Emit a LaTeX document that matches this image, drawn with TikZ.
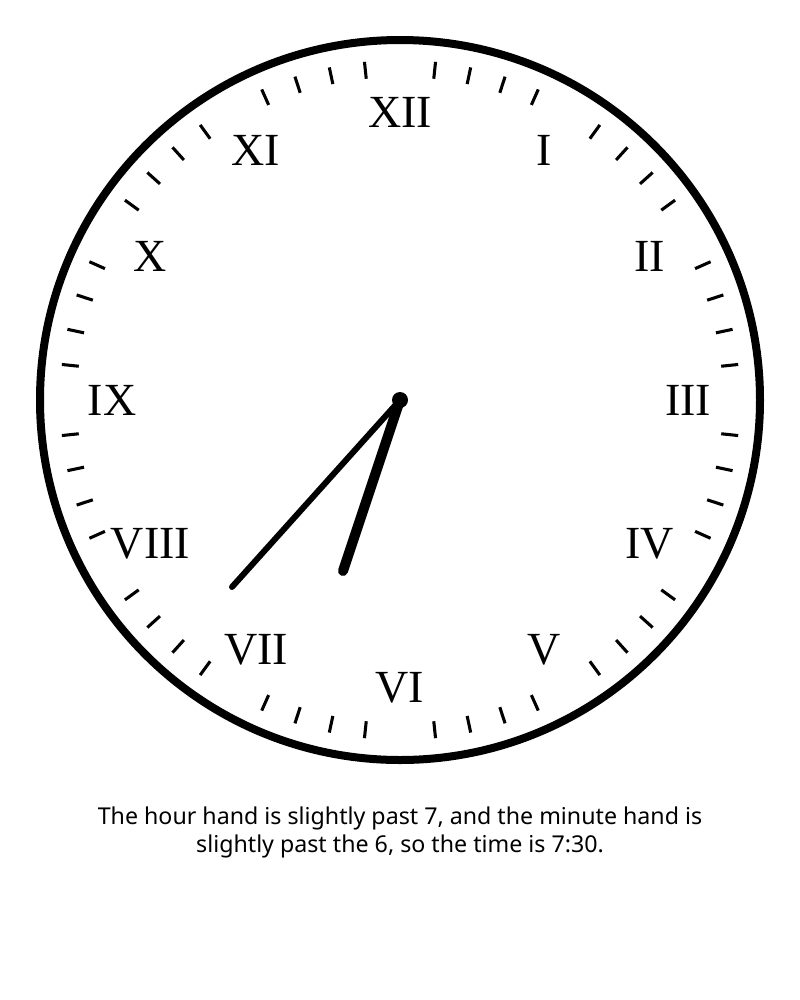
\documentclass[tikz,border=0pt]{standalone}
\usepackage{fontspec}
\setmainfont{Liberation Serif}
\newfontfamily\notefont{Noto Sans}
\usetikzlibrary{calc}
\tikzset{
  numeral/.style={font=\fontsize{34.5}{40}\selectfont,inner sep=0pt},
  tickmark/.style={line width=2.3pt},
  rim/.style={line width=6pt},
  hourhand/.style={line width=7.5pt,line cap=round},
  minutehand/.style={line width=4.5pt,line cap=round},
  note/.style={font=\notefont\fontsize{17.4}{21}\selectfont,align=center,inner sep=0pt},
}

\begin{document}
\begin{tikzpicture}[x=0.75pt,y=-0.75pt]
  \useasboundingbox (0,0) rectangle (800,1000);
  \coordinate (centre) at (400,400);
  \draw[rim] (centre) circle[radius=360];
  % minute marks, none at the hours
  \foreach \m in {0,...,59}{
    \pgfmathparse{int(mod(\m,5))}
    \ifnum\pgfmathresult>0
      \draw[tickmark] ($(centre)+({323*sin(6*\m)},{-323*cos(6*\m)})$) -- ($(centre)+({340*sin(6*\m)},{-340*cos(6*\m)})$);
    \fi
  }
  \foreach \h/\txt in {1/I,2/II,3/III,4/IV,5/V,6/VI,7/VII,8/VIII,9/IX,10/X,11/XI,12/XII}
    \node[numeral] (num\h) at ($(centre)+({288*sin(30*\h)},{-288*cos(30*\h)})$) {\txt};
  \coordinate (hourtip) at (343,571);
  \coordinate (minutetip) at (232,587);
  \draw[minutehand] (centre) -- (minutetip);
  \draw[hourhand] (centre) -- (hourtip);
  \fill (centre) circle[radius=8];
  \node[note] (caption) at (400,832) {The hour hand is slightly past 7, and the minute hand is\\slightly past the 6, so the time is 7:30.};
\end{tikzpicture}
\end{document}
